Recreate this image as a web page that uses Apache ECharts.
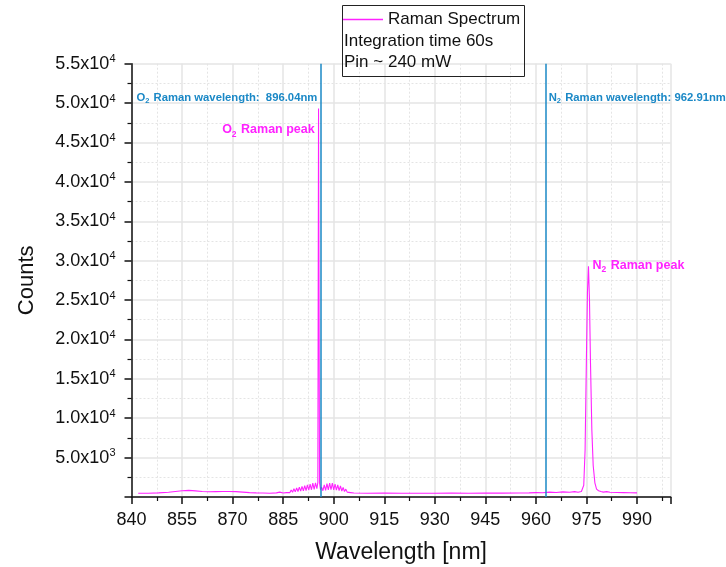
<!DOCTYPE html>
<html>
<head>
<meta charset="utf-8">
<script src="https://cdn.jsdelivr.net/npm/echarts@6/dist/echarts.min.js"></script>
<style>html,body{margin:0;padding:0;background:#fff}#c{width:726px;height:567px}</style>
</head>
<body>
<div id="c"></div>
<script>
// ---- data ----
const wavelengths = [
  842,845,848,851,853,855,857,859,861,863,865,867,869,871,873,875,877,879,881,883,884,885,886,
  886.5,887,887.4,887.8,888.2,888.6,889,889.4,889.8,890.2,890.6,891,891.4,891.8,892.2,892.6,893,893.4,893.8,894.2,894.6,895,895.3,895.5,895.65,895.8,896.1,
  896.4,896.8,897.2,897.6,898,898.4,898.8,899.2,899.6,900,900.4,900.8,901.2,901.6,902,902.4,902.8,903.2,903.6,904,904.5,905,906,
  910,915,920,925,930,935,940,945,950,955,958,960,962,964,966,968,970,971.5,972.5,973.5,
  974.2,974.6,975,975.3,975.6,975.9,976.2,976.6,977,977.5,978,978.6,979.3,980,981,982,984,986,988,990
];
const counts = [
  470,480,520,600,700,800,840,780,700,660,680,700,700,680,620,560,520,500,480,520,620,500,560,
  760,560,900,600,1050,650,1150,700,1250,740,1350,780,1450,820,1550,880,1650,920,1750,980,1800,1050,1850,49300,49100,1800,900,
  1250,800,1550,850,1700,900,1750,920,1750,900,1650,860,1550,820,1400,760,1200,700,1000,620,800,560,500,
  480,490,480,470,480,490,480,500,490,510,520,560,540,620,580,650,600,680,600,700,
  1500,6000,18000,26000,29300,25000,17000,8500,4000,1800,1000,800,700,620,680,600,580,560,540,520
];
const xTicks = [840,855,870,885,900,915,930,945,960,975,990];
const yTicks = [5000,10000,15000,20000,25000,30000,35000,40000,45000,50000,55000];
const o2Line = 896.04, n2Line = 962.91;
const o2Peak = [895.55, 49300], n2Peak = [975.6, 29300];
const seriesName = 'Raman Spectrum';
const infoLines = ['Integration time 60s', 'Pin ~ 240 mW'];

const spectrum = wavelengths.map((w, i) => [w, counts[i]]);
const FONT = '"Liberation Sans", Arial, sans-serif';
const MAG = '#ff22ff', BLUE = '#1a88c6';

const chart = echarts.init(document.getElementById('c'), null, {renderer: 'canvas'});

function yFmt(v) {
  if (yTicks.indexOf(v) < 0) return '';
  const e = Math.floor(Math.log10(v) + 1e-9);
  const m = v / Math.pow(10, e);
  return '{a|' + m.toFixed(1) + 'x10}{s|' + e + '}';
}

const option = {
  animation: false,
  backgroundColor: '#fff',
  textStyle: {fontFamily: FONT},
  grid: {left: 131.5, right: 55.3, top: 63.7, bottom: 70, containLabel: false, outerBoundsMode: 'none'},
  legend: {
    show: true, left: 343, top: 11, padding: 0, itemWidth: 40, itemHeight: 1.5,
    data: [{name: seriesName, icon: 'rect'}],
    textStyle: {fontSize: 17, color: '#111', fontFamily: FONT}
  },
  xAxis: {
    type: 'value', min: 840, max: 1000, interval: 15,
    name: 'Wavelength [nm]', nameLocation: 'middle', nameGap: 44, nameMoveOverlap: false,
    nameTextStyle: {fontSize: 23, color: '#111', fontFamily: FONT},
    axisLine: {show: true, onZero: false, lineStyle: {color: '#111', width: 1.5}},
    axisTick: {show: true, inside: false, length: 7, lineStyle: {color: '#111', width: 1.5}},
    minorTick: {show: true, splitNumber: 2, length: 4, lineStyle: {color: '#111', width: 1.2}},
    axisLabel: {fontSize: 18, color: '#111', margin: 14, showMaxLabel: false,
      formatter: v => (xTicks.indexOf(v) >= 0 ? String(v) : '')},
    splitLine: {show: true, lineStyle: {color: '#e4e4e4', width: 1.5}},
    minorSplitLine: {show: true, lineStyle: {color: '#e4e4e4', width: 1, type: [2, 2]}}
  },
  yAxis: {
    type: 'value', min: 0, max: 55000, interval: 5000,
    name: 'Counts', nameLocation: 'middle', nameGap: 94, nameRotate: 90, nameMoveOverlap: false,
    nameTextStyle: {fontSize: 22, color: '#111', fontFamily: FONT},
    axisLine: {show: true, onZero: false, lineStyle: {color: '#111', width: 1.5}},
    axisTick: {show: true, inside: false, length: 7, lineStyle: {color: '#111', width: 1.5}},
    minorTick: {show: true, splitNumber: 2, length: 4, lineStyle: {color: '#111', width: 1.2}},
    axisLabel: {
      margin: 16, color: '#111', formatter: yFmt,
      rich: {
        a: {fontSize: 18, color: '#111', fontFamily: FONT},
        s: {fontSize: 11, color: '#111', fontFamily: FONT, verticalAlign: 'top', padding: [0, 0, 9, 0]}
      }
    },
    splitLine: {show: true, lineStyle: {color: '#e4e4e4', width: 1.5}},
    minorSplitLine: {show: true, lineStyle: {color: '#e4e4e4', width: 1, type: [2, 2]}}
  },
  series: [
    {
      name: 'wavelength markers', type: 'line', data: [], silent: true,
      markLine: {
        symbol: 'none', silent: true, animation: false,
        label: {show: false},
        lineStyle: {color: BLUE, width: 1.5, type: 'solid'},
        data: [{xAxis: o2Line}, {xAxis: n2Line}]
      }
    },
    {
      name: seriesName, type: 'line', data: spectrum, symbol: 'none', showSymbol: false,
      lineStyle: {color: MAG, width: 1.1}, itemStyle: {color: MAG}, z: 3
    }
  ]
};
chart.setOption(option);

const pO2 = chart.convertToPixel({gridIndex: 0}, [o2Line, 0]);
const pN2 = chart.convertToPixel({gridIndex: 0}, [n2Line, 0]);
const yLab = chart.convertToPixel({gridIndex: 0}, [0, 50700])[1];
const pO2pk = chart.convertToPixel({gridIndex: 0}, [o2Peak[0], o2Peak[1] - 2700]);
const pN2pk = chart.convertToPixel({gridIndex: 0}, [n2Peak[0], n2Peak[1] + 100]);

const blueRich = {
  b: {fontSize: 11.3, fontWeight: 'bold', fill: BLUE, fontFamily: FONT},
  s: {fontSize: 7.5, fontWeight: 'bold', fill: BLUE, fontFamily: FONT, verticalAlign: 'bottom', padding: [6, 1, 0, 0]}
};
const magRich = {
  b: {fontSize: 12.5, fontWeight: 'bold', fill: MAG, fontFamily: FONT},
  s: {fontSize: 8.5, fontWeight: 'bold', fill: MAG, fontFamily: FONT, verticalAlign: 'bottom', padding: [9, 1, 0, 0]}
};

chart.setOption({
  graphic: [
    {type: 'rect', left: 342, top: 5, z: 100, silent: true,
      shape: {width: 182, height: 71},
      style: {fill: 'rgba(255,255,255,0)', stroke: '#222', lineWidth: 1}},
    {type: 'text', left: 344, top: 33, z: 101, silent: true,
      style: {text: infoLines[0], fontSize: 17, fill: '#111', fontFamily: FONT}},
    {type: 'text', left: 344, top: 54, z: 101, silent: true,
      style: {text: infoLines[1], fontSize: 17, fill: '#111', fontFamily: FONT}},
    {type: 'text', x: pO2[0] - 3, y: yLab, z: 101, silent: true,
      style: {text: '{b|O}{s|2}{b| Raman wavelength:  ' + o2Line.toFixed(2) + 'nm}', rich: blueRich,
        fill: BLUE, align: 'right', verticalAlign: 'middle'}},
    {type: 'text', x: pN2[0] + 3, y: yLab, z: 101, silent: true,
      style: {text: '{b|N}{s|2}{b| Raman wavelength: ' + n2Line.toFixed(2) + 'nm}', rich: blueRich,
        fill: BLUE, align: 'left', verticalAlign: 'middle'}},
    {type: 'text', x: pO2pk[0] - 4, y: pO2pk[1], z: 101, silent: true,
      style: {text: '{b|O}{s|2}{b| Raman peak}', rich: magRich, fill: MAG, align: 'right', verticalAlign: 'middle'}},
    {type: 'text', x: pN2pk[0] + 4, y: pN2pk[1], z: 101, silent: true,
      style: {text: '{b|N}{s|2}{b| Raman peak}', rich: magRich, fill: MAG, align: 'left', verticalAlign: 'middle'}}
  ]
});
</script>
</body>
</html>
